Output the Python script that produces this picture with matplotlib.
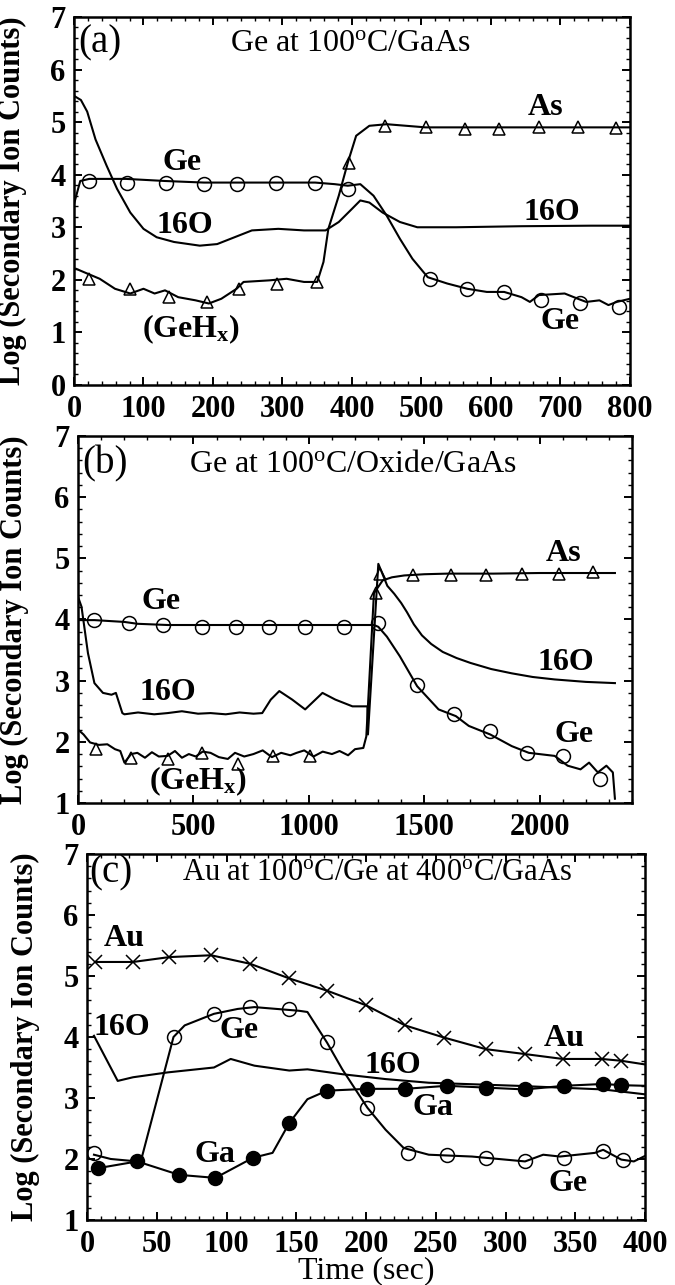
import matplotlib
matplotlib.use("Agg")
import matplotlib.pyplot as plt
from matplotlib.ticker import MultipleLocator

plt.rcParams['font.family'] = ['Liberation Serif', 'DejaVu Serif']
plt.rcParams['mathtext.fontset'] = 'custom'
plt.rcParams['mathtext.rm'] = 'Liberation Serif'
plt.rcParams['mathtext.bf'] = 'Liberation Serif:bold'
plt.rcParams['mathtext.it'] = 'Liberation Serif:italic'

# ---- panel (a): Ge at 100C / GaAs ----
a_ge_x = [0, 9, 22, 75, 131, 187, 234, 291, 347, 375, 394, 412, 431, 450, 469, 487, 509, 537, 566, 594,
          619, 644, 656, 669, 706, 725, 737, 756, 769, 781, 800]
a_ge_y = [3.44, 3.88, 3.92, 3.92, 3.88, 3.85, 3.85, 3.85, 3.85, 3.82, 3.79, 3.82, 3.6, 3.22, 2.78, 2.4, 2.05,
          1.93, 1.83, 1.77, 1.77, 1.67, 1.58, 1.71, 1.74, 1.64, 1.58, 1.61, 1.52, 1.58, 1.64]
a_ge_mx = [22, 76, 133, 187, 234, 291, 347, 394, 512, 566, 619, 672, 728, 784]
a_ge_my = [3.88, 3.85, 3.85, 3.82, 3.82, 3.85, 3.85, 3.73, 2.02, 1.83, 1.77, 1.61, 1.55, 1.48]

a_o_x = [0, 10, 19, 31, 47, 62, 81, 100, 119, 144, 181, 206, 231, 256, 294, 331, 362, 381, 400, 412, 425,
         444, 469, 494, 550, 644, 744, 800]
a_o_y = [5.5, 5.42, 5.2, 4.67, 4.17, 3.73, 3.28, 2.97, 2.81, 2.72, 2.65, 2.68, 2.81, 2.94, 2.97, 2.94, 2.94,
         3.10, 3.35, 3.51, 3.47, 3.28, 3.10, 3.0, 3.0, 3.02, 3.03, 3.03]

a_as_x = [3, 19, 37, 59, 81, 100, 116, 131, 150, 175, 194, 212, 234, 244, 281, 306, 331, 350, 359, 366,
          381, 394, 406, 425, 450, 506, 581, 675, 800]
a_as_y = [2.21, 2.12, 2.02, 1.83, 1.74, 1.83, 1.74, 1.8, 1.67, 1.61, 1.55, 1.64, 1.83, 1.96, 1.99, 2.02,
          1.96, 1.96, 2.34, 2.97, 3.6, 4.23, 4.74, 4.93, 4.96, 4.9, 4.9, 4.9, 4.9]
a_as_mx = [22, 80, 137, 192, 237, 292, 350, 395, 448, 506, 562, 612, 669, 725, 780]
a_as_my = [2.02, 1.83, 1.67, 1.58, 1.83, 1.93, 1.96, 4.23, 4.93, 4.9, 4.86, 4.86, 4.9, 4.9, 4.88]

# ---- panel (b): Ge at 100C / Oxide / GaAs ----
b_ge_x = [0, 71, 201, 257, 388, 760, 1254, 1282, 1301, 1338, 1394, 1469, 1562, 1637, 1693, 1786, 1879,
          1953, 2065, 2121, 2177, 2214, 2252, 2289, 2317, 2326]
b_ge_y = [3.99, 3.99, 3.96, 3.93, 3.91, 3.91, 3.91, 3.91, 3.88, 3.72, 3.40, 2.91, 2.53, 2.42, 2.26, 2.12,
          1.93, 1.82, 1.77, 1.61, 1.55, 1.66, 1.5, 1.61, 1.5, 1.07]
b_ge_mx = [71, 220, 369, 537, 686, 826, 984, 1152, 1301, 1469, 1627, 1786, 1944, 2103, 2261]
b_ge_my = [3.99, 3.94, 3.91, 3.88, 3.88, 3.88, 3.88, 3.88, 3.94, 2.93, 2.45, 2.18, 1.82, 1.77, 1.39]

b_o_x = [0, 15, 43, 71, 108, 145, 164, 192, 201, 260, 330, 388, 450, 520, 574, 640, 700, 760, 798, 835,
         872, 928, 984, 1059, 1115, 1189, 1254, 1256, 1301, 1340, 1370, 1400, 1425, 1455, 1490, 1530,
         1580, 1640, 1700, 1790, 1879, 1970, 2065, 2200, 2326]
b_o_y = [4.37, 4.21, 3.45, 2.96, 2.8, 2.77, 2.8, 2.47, 2.45, 2.48, 2.45, 2.47, 2.5, 2.46, 2.47, 2.45,
         2.48, 2.46, 2.47, 2.69, 2.83, 2.69, 2.53, 2.8, 2.69, 2.58, 2.58, 2.12, 4.91, 4.55, 4.42, 4.27,
         4.12, 3.92, 3.74, 3.6, 3.47, 3.37, 3.29, 3.19, 3.12, 3.06, 3.02, 2.98, 2.96]

b_as_x = [6, 24, 52, 90, 127, 160, 183, 201, 230, 257, 290, 320, 350, 388, 420, 450, 480, 510, 540, 574,
          610, 649, 680, 720, 760, 800, 840, 880, 920, 947, 980, 1020, 1060, 1100, 1133, 1170, 1200, 1236,
          1249, 1282, 1320, 1360, 1413, 1500, 1600, 1800, 2000, 2200, 2326]
b_as_y = [2.18, 2.12, 1.99, 1.95, 1.96, 1.88, 1.85, 1.66, 1.8, 1.82, 1.74, 1.83, 1.76, 1.77, 1.85, 1.74,
          1.8, 1.76, 1.84, 1.82, 1.75, 1.72, 1.82, 1.76, 1.80, 1.86, 1.75, 1.82, 1.78, 1.82, 1.86, 1.76,
          1.84, 1.8, 1.85, 1.78, 1.88, 1.9, 2.09, 4.43, 4.64, 4.69, 4.72, 4.74, 4.75, 4.75, 4.76, 4.76, 4.76]
b_as_mx = [80, 229, 388, 537, 695, 844, 1003, 1292, 1310, 1450, 1618, 1767, 1925, 2084, 2233]
b_as_my = [1.88, 1.74, 1.72, 1.82, 1.63, 1.77, 1.77, 4.43, 4.75, 4.72, 4.72, 4.72, 4.75, 4.75, 4.78]

# ---- panel (c): Au at 100C / Ge at 400C / GaAs ----
c_au_x = [6, 33, 59, 89, 117, 145, 172, 200, 228, 256, 286, 314, 341, 369, 383, 400]
c_au_y = [5.23, 5.23, 5.31, 5.34, 5.20, 4.96, 4.76, 4.52, 4.19, 3.99, 3.80, 3.72, 3.64, 3.64, 3.61, 3.55]
c_au_mx = [6, 33, 59, 89, 117, 145, 172, 200, 228, 256, 286, 314, 341, 369, 383]
c_au_my = [5.23, 5.23, 5.31, 5.34, 5.20, 4.96, 4.76, 4.52, 4.19, 3.99, 3.80, 3.72, 3.64, 3.64, 3.61]

c_ge_x = [5, 17, 36, 39, 62, 70, 91, 108, 120, 152, 158, 172, 183, 201, 214, 227, 245, 276, 314, 327,
          339, 364, 370, 383, 392, 400]
c_ge_y = [2.07, 2.0, 1.96, 2.0, 4.0, 4.19, 4.38, 4.46, 4.49, 4.43, 4.41, 3.91, 3.47, 2.84, 2.48, 2.18,
          2.07, 2.04, 1.96, 2.07, 2.04, 2.1, 2.15, 1.99, 1.96, 2.05]
c_ge_mx = [5, 62, 91, 117, 145, 172, 201, 230, 258, 286, 314, 342, 370, 384]
c_ge_my = [2.10, 4.0, 4.38, 4.49, 4.46, 3.91, 2.84, 2.10, 2.07, 2.02, 1.96, 2.02, 2.13, 1.99]

c_o_x = [5, 22, 33, 58, 91, 103, 120, 145, 158, 183, 214, 245, 308, 370, 400]
c_o_y = [4.02, 3.28, 3.34, 3.42, 3.50, 3.64, 3.53, 3.45, 3.47, 3.39, 3.31, 3.25, 3.20, 3.14, 3.06]

c_ga_x = [8, 36, 66, 92, 119, 133, 145, 158, 172, 201, 228, 258, 286, 314, 342, 370, 383, 400]
c_ga_y = [1.85, 1.96, 1.74, 1.69, 2.02, 2.10, 2.59, 2.98, 3.12, 3.15, 3.15, 3.2, 3.17, 3.14, 3.2, 3.23,
          3.21, 3.2]
c_ga_mx = [8, 36, 66, 92, 119, 145, 172, 201, 228, 258, 286, 314, 342, 370, 383]
c_ga_my = [1.85, 1.96, 1.74, 1.69, 2.02, 2.59, 3.12, 3.15, 3.15, 3.2, 3.17, 3.14, 3.2, 3.23, 3.21]

fig = plt.figure(figsize=(6.75, 12.85), dpi=100)
ax_a = fig.add_axes([0.1096, 0.7004, 0.8237, 0.2864])
ax_b = fig.add_axes([0.1156, 0.3751, 0.8207, 0.2856])
ax_c = fig.add_axes([0.1289, 0.0506, 0.8267, 0.2848])

LW = 1.5
MS = 10


def line(ax, x, y):
    ax.plot(x, y, color='black', lw=LW)


def marks(ax, x, y, m, fill='none', ms=MS):
    ax.plot(x, y, ls='none', marker=m, ms=ms, mec='black', mfc=fill, mew=1.1)


def style(ax, xmax, xmaj, xmin, ymin, lab_x):
    ax.set_xlim(0, xmax)
    ax.set_ylim(ymin, 7)
    ax.xaxis.set_major_locator(MultipleLocator(xmaj))
    ax.xaxis.set_minor_locator(MultipleLocator(xmin))
    ax.yaxis.set_major_locator(MultipleLocator(1))
    ax.yaxis.set_minor_locator(MultipleLocator(0.2))
    ax.tick_params(which='both', direction='in', top=True, right=True)
    ax.tick_params(which='major', length=6, width=1.4, labelsize=22)
    ax.tick_params(axis='x', which='major', pad=7)
    ax.tick_params(axis='y', which='major', pad=6)
    ax.tick_params(which='minor', length=3, width=1.0)
    for lbl in ax.get_xticklabels() + ax.get_yticklabels():
        lbl.set_fontweight('bold')
    for sp in ax.spines.values():
        sp.set_linewidth(1.8)
    ax.set_ylabel('Log (Secondary Ion Counts)', fontsize=22, fontweight='bold')
    ax.yaxis.set_label_coords(lab_x, 0.5)


def tag(ax, x, y, s, size=23, weight='bold', **kw):
    ax.text(x, y, s, fontsize=size, fontweight=weight, ha='center', va='center', **kw)


# panel (a)
line(ax_a, a_ge_x, a_ge_y)
marks(ax_a, a_ge_mx, a_ge_my, 'o')
line(ax_a, a_o_x, a_o_y)
line(ax_a, a_as_x, a_as_y)
marks(ax_a, a_as_mx, a_as_my, '^', ms=9)
style(ax_a, 800, 100, 20, 0, -0.085)
tag(ax_a, 37, 6.5, '(a)', size=28, weight='normal')
tag(ax_a, 397, 6.5, r'Ge at 100$^{\mathrm{o}}$C/GaAs', size=23, weight='normal')
tag(ax_a, 678, 5.27, 'As')
tag(ax_a, 156, 4.23, 'Ge')
tag(ax_a, 159, 3.03, '16O')
tag(ax_a, 687, 3.28, '16O')
tag(ax_a, 169, 1.07, r'(GeH$_{\mathbf{x}}$)')
tag(ax_a, 700, 1.2, 'Ge')

# panel (b)
line(ax_b, b_ge_x, b_ge_y)
marks(ax_b, b_ge_mx, b_ge_my, 'o')
line(ax_b, b_o_x, b_o_y)
line(ax_b, b_as_x, b_as_y)
marks(ax_b, b_as_mx, b_as_my, '^', ms=9)
style(ax_b, 2400, 500, 100, 1, -0.089)
tag(ax_b, 117, 6.54, '(b)', size=28, weight='normal')
tag(ax_b, 1189, 6.54, r'Ge at 100$^{\mathrm{o}}$C/Oxide/GaAs', size=23, weight='normal')
tag(ax_b, 2103, 5.08, 'As')
tag(ax_b, 360, 4.29, 'Ge')
tag(ax_b, 388, 2.8, '16O')
tag(ax_b, 2112, 3.29, '16O')
tag(ax_b, 2149, 2.12, 'Ge')
tag(ax_b, 518, 1.36, r'(GeH$_{\mathbf{x}}$)', clip_on=True)

# panel (c)
line(ax_c, c_au_x, c_au_y)
marks(ax_c, c_au_mx, c_au_my, 'x', ms=10)
line(ax_c, c_ge_x, c_ge_y)
marks(ax_c, c_ge_mx, c_ge_my, 'o')
line(ax_c, c_o_x, c_o_y)
line(ax_c, c_ga_x, c_ga_y)
marks(ax_c, c_ga_mx, c_ga_my, 'o', fill='black')
style(ax_c, 400, 50, 10, 1, -0.085)
ax_c.set_xlabel('Time (sec)', fontsize=23, labelpad=-2)
tag(ax_c, 17, 6.69, '(c)', size=28, weight='normal')
tag(ax_c, 208, 6.69, r'Au at 100$^{\mathrm{o}}$C/Ge at 400$^{\mathrm{o}}$C/GaAs', size=22, weight='normal')
tag(ax_c, 27, 5.62, 'Au')
tag(ax_c, 342, 3.97, 'Au')
tag(ax_c, 25, 4.16, '16O')
tag(ax_c, 109, 4.10, 'Ge')
tag(ax_c, 219, 3.53, '16O')
tag(ax_c, 248, 2.84, 'Ga')
tag(ax_c, 92, 2.07, 'Ga')
tag(ax_c, 345, 1.6, 'Ge')

fig.savefig('out.png', dpi=100)
